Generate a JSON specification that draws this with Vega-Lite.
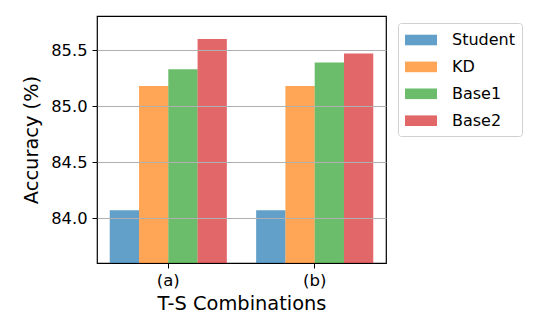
{
  "$schema": "https://vega.github.io/schema/vega-lite/v6.json",
  "autosize": "none",
  "padding": {"left": 97, "top": 16, "right": 154, "bottom": 67},
  "width": 289,
  "height": 247,
  "background": "white",
  "config": {
    "font": "DejaVu Sans",
    "view": {"stroke": "black", "strokeWidth": 1.2}
  },
  "data": {
    "values": [
      {"combo": "(a)", "method": "Student", "acc": 84.07},
      {"combo": "(a)", "method": "KD", "acc": 85.18},
      {"combo": "(a)", "method": "Base1", "acc": 85.33},
      {"combo": "(a)", "method": "Base2", "acc": 85.60},
      {"combo": "(b)", "method": "Student", "acc": 84.07},
      {"combo": "(b)", "method": "KD", "acc": 85.18},
      {"combo": "(b)", "method": "Base1", "acc": 85.39},
      {"combo": "(b)", "method": "Base2", "acc": 85.47}
    ]
  },
  "mark": {"type": "bar", "clip": true, "opacity": 0.7},
  "encoding": {
    "x": {
      "field": "combo", "type": "nominal",
      "scale": {"paddingInner": 0.2, "paddingOuter": 0.087},
      "axis": {
        "title": "T-S Combinations", "labelAngle": 0, "labelFontSize": 16.5, "labelColor": "black",
        "titleFontSize": 19.4, "titleFontWeight": "normal", "titleColor": "black", "titlePadding": 6,
        "tickColor": "black", "tickSize": 5, "labelPadding": 4, "domain": false, "grid": false
      }
    },
    "xOffset": {
      "field": "method", "type": "nominal",
      "sort": ["Student", "KD", "Base1", "Base2"],
      "scale": {"paddingInner": 0, "paddingOuter": 0}
    },
    "y": {
      "field": "acc", "type": "quantitative",
      "scale": {"domain": [83.598, 85.806], "zero": false, "nice": false},
      "axis": {
        "title": "Accuracy (%)", "values": [84, 84.5, 85, 85.5], "format": ".1f",
        "labelFontSize": 16.3, "labelColor": "black",
        "titleFontSize": 19.4, "titleFontWeight": "normal", "titleColor": "black", "titlePadding": 9,
        "tickColor": "black", "tickSize": 5, "labelPadding": 5, "domain": false,
        "grid": true, "gridColor": "#b0b0b0", "gridWidth": 1.1, "zindex": 1
      }
    },
    "color": {
      "field": "method", "type": "nominal",
      "sort": ["Student", "KD", "Base1", "Base2"],
      "scale": {"domain": ["Student", "KD", "Base1", "Base2"], "range": ["#1f77b4", "#ff7f0e", "#2ca02c", "#d62728"]},
      "legend": {
        "title": null, "orient": "none", "legendX": 301, "legendY": 7,
        "symbolType": "M-1,-0.53H2.2V0.53H-1Z", "symbolSize": 400, "symbolOpacity": 0.7,
        "symbolStrokeWidth": 0,
        "labelFontSize": 16, "labelColor": "black", "labelOffset": 27,
        "rowPadding": 8.9, "padding": 7,
        "strokeColor": "#d0d0d0", "fillColor": "white", "cornerRadius": 3
      }
    }
  }
}
